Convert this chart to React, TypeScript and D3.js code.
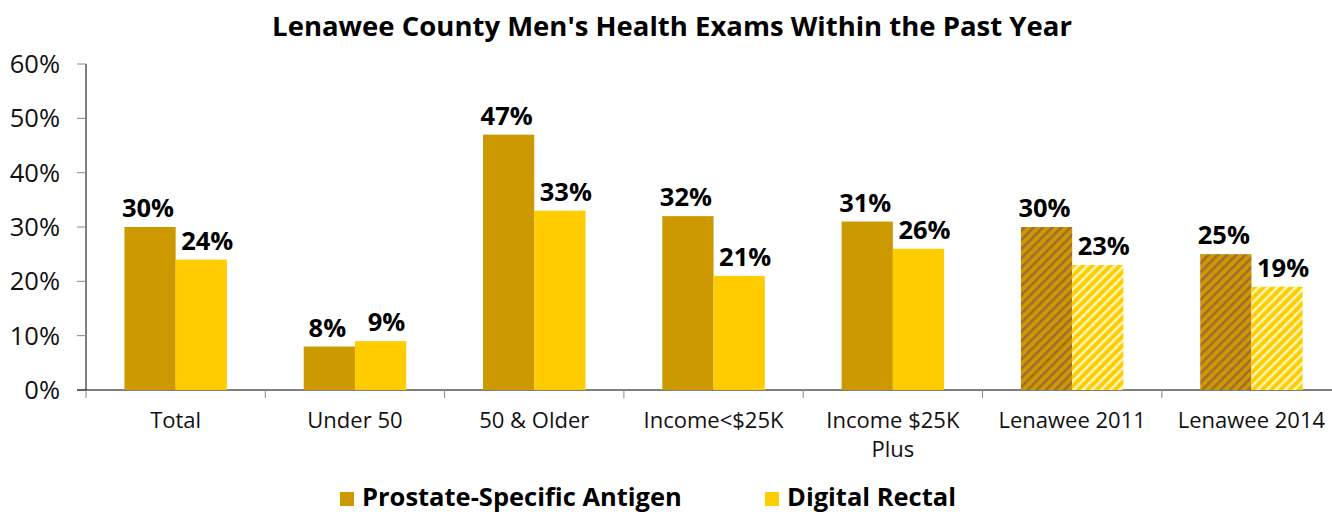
import React, { useEffect, useRef } from 'react';
import * as d3 from 'd3';

const categories = ['Total', 'Under 50', '50 & Older', 'Income<$25K', 'Income $25K|Plus', 'Lenawee 2011', 'Lenawee 2014'];
const psaValues = [30, 8, 47, 32, 31, 30, 25];
const drValues = [24, 9, 33, 21, 26, 23, 19];
const hatched = [false, false, false, false, false, true, true];
const seriesNames = ['Prostate-Specific Antigen', 'Digital Rectal'];
const yTicks = [0, 10, 20, 30, 40, 50, 60];

const W = 1332;
const H = 512;
const FONT = '"Open Sans", "Noto Sans", sans-serif';
const colors = ['#CC9900', '#FFCC00'];
const stripeColors = ['#A46C30', '#FFF6B0'];

const App = () => {
  const svgRef = useRef<SVGSVGElement>(null);

  useEffect(() => {
    const svg = d3.select(svgRef.current);
    svg.selectAll('*').remove();

    const left = 86;
    const right = 86 + 7 * 179.3;
    const top = 64;
    const bottom = 390;

    const x = d3.scaleBand().domain(categories).range([left, right]);
    const inner = d3.scaleBand().domain(['0', '1']).range([0, x.bandwidth()]).paddingOuter(0.75).paddingInner(0);
    const y = d3.scaleLinear().domain([0, 60]).range([bottom, top]);

    const defs = svg.append('defs');
    colors.forEach((c, i) => {
      const p = defs.append('pattern')
        .attr('id', `hatch${i}`)
        .attr('patternUnits', 'userSpaceOnUse')
        .attr('width', 6.5)
        .attr('height', 6.5)
        .attr('patternTransform', 'rotate(45)');
      p.append('rect').attr('width', 6.5).attr('height', 6.5).attr('fill', c);
      p.append('rect').attr('width', 2.6).attr('height', 6.5).attr('fill', stripeColors[i]);
    });

    // title
    svg.append('text')
      .attr('x', 672).attr('y', 36)
      .attr('text-anchor', 'middle')
      .style('font-family', FONT).style('font-weight', 'bold').style('font-size', '27.5px')
      .text("Lenawee County Men's Health Exams Within the Past Year");

    // y axis
    svg.append('line').attr('x1', left).attr('x2', left).attr('y1', top).attr('y2', bottom).attr('stroke', '#000');
    yTicks.forEach(t => {
      svg.append('line').attr('x1', left - 9).attr('x2', left).attr('y1', y(t)).attr('y2', y(t)).attr('stroke', '#888');
      svg.append('text')
        .attr('x', 60).attr('y', y(t) + 9)
        .attr('text-anchor', 'end')
        .style('font-family', FONT).style('font-size', '25.5px').attr('fill', '#111')
        .text(`${t}%`);
    });

    // x axis
    svg.append('line').attr('x1', left - 9).attr('x2', right).attr('y1', bottom).attr('y2', bottom).attr('stroke', '#000');
    categories.forEach((c) => {
      const x0 = x(c) as number;
      svg.append('line').attr('x1', x0).attr('x2', x0).attr('y1', bottom).attr('y2', bottom + 8).attr('stroke', '#888');
      const lines = c.split('|');
      lines.forEach((ln, j) => {
        svg.append('text')
          .attr('x', x0 + x.bandwidth() / 2).attr('y', 428 + j * 29)
          .attr('text-anchor', 'middle')
          .style('font-family', FONT).style('font-size', '22px').attr('fill', '#111')
          .text(ln);
      });
    });

    // bars
    const series = [psaValues, drValues];
    categories.forEach((c, i) => {
      series.forEach((vals, s) => {
        const bx = (x(c) as number) + (inner(String(s)) as number);
        const v = vals[i];
        svg.append('rect')
          .attr('x', bx).attr('y', y(v))
          .attr('width', inner.bandwidth()).attr('height', bottom - y(v))
          .attr('fill', hatched[i] ? `url(#hatch${s})` : colors[s]);
        svg.append('text')
          .attr('x', bx + inner.bandwidth() / 2 + (s === 1 ? 6 : -2)).attr('y', y(v) - 10)
          .attr('text-anchor', 'middle')
          .style('font-family', FONT).style('font-weight', 'bold').style('font-size', '25.5px')
          .text(`${v}%`);
      });
    });

    // legend
    const legendX = [340, 765];
    seriesNames.forEach((n, i) => {
      svg.append('rect').attr('x', legendX[i]).attr('y', 492).attr('width', 14).attr('height', 14).attr('fill', colors[i]);
      svg.append('text')
        .attr('x', legendX[i] + 22).attr('y', 506)
        .style('font-family', FONT).style('font-weight', 'bold').style('font-size', '25.5px')
        .text(n);
    });
  }, []);

  return <svg ref={svgRef} width={W} height={H} style={{ display: 'block', position: 'absolute', left: 0, top: 0 }} />;
};

export default App;
